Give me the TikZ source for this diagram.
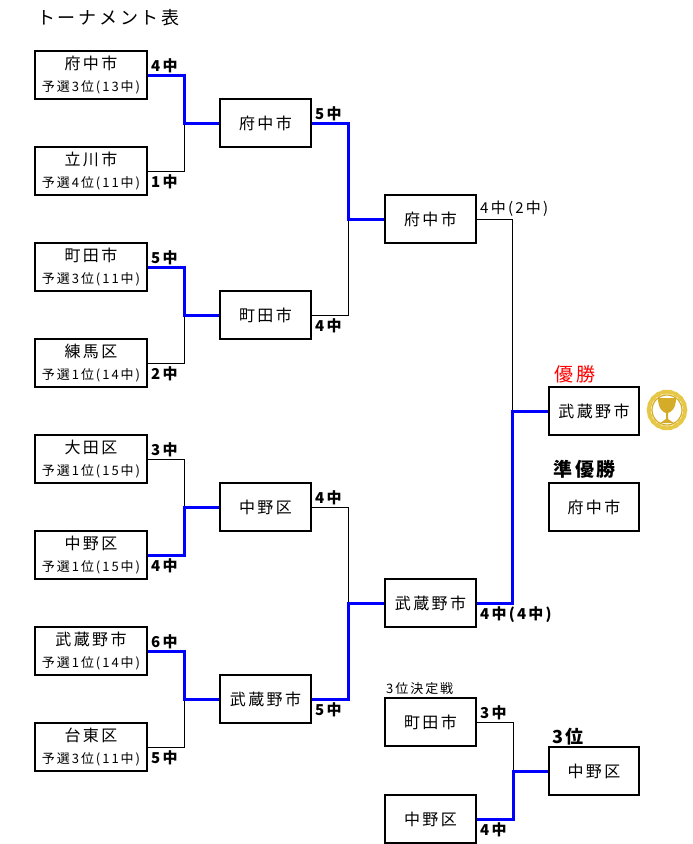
\documentclass[tikz,border=0pt]{standalone}
\usepackage{fontspec}
\setmainfont{Noto Sans CJK JP}[LetterSpace=15]
\usetikzlibrary{positioning}

\definecolor{winblue}{RGB}{0,0,255}
\definecolor{cupgold}{RGB}{212,172,40}
\definecolor{leafgold}{RGB}{230,200,70}

\newcommand{\seedinfo}[1]{{\fontsize{13}{15}\selectfont #1}}

\tikzset{
  team/.style={draw, line width=2pt, minimum height=48pt, inner sep=0pt,
    align=center, font=\fontsize{16}{18}\selectfont},
  seedbox/.style={team, minimum width=112pt},
  matchbox/.style={team, minimum width=91pt},
  win/.style={winblue, line width=3pt},
  lose/.style={black, line width=0.8pt},
  score/.style={font=\bfseries\fontsize{15}{15}\selectfont, inner sep=0pt},
  heading/.style={font=\fontsize{18}{20}\selectfont, inner sep=0pt},
}

\begin{document}
\begin{tikzpicture}[x=1pt,y=-1pt]
\useasboundingbox (0,0) rectangle (693,844);

% Title
\node[heading, anchor=west] (title) at (37,18) {トーナメント表};

% Round 1
\node[seedbox] (fuchuA) at (91,75) {府中市\\[4pt]\seedinfo{予選3位(13中)}};
\node[seedbox] (tachikawa) at (91,171) {立川市\\[4pt]\seedinfo{予選4位(11中)}};
\node[seedbox] (machidaA) at (91,267) {町田市\\[4pt]\seedinfo{予選3位(11中)}};
\node[seedbox] (nerima) at (91,363) {練馬区\\[4pt]\seedinfo{予選1位(14中)}};
\node[seedbox] (ota) at (91,459) {大田区\\[4pt]\seedinfo{予選1位(15中)}};
\node[seedbox] (nakanoA) at (91,555) {中野区\\[4pt]\seedinfo{予選1位(15中)}};
\node[seedbox] (musashinoA) at (91,651) {武蔵野市\\[4pt]\seedinfo{予選1位(14中)}};
\node[seedbox] (taito) at (91,747) {台東区\\[4pt]\seedinfo{予選3位(11中)}};

% Round 2
\node[matchbox] (fuchuB) at (265.5,123) {府中市};
\node[matchbox] (machidaB) at (265.5,315) {町田市};
\node[matchbox] (nakanoB) at (265.5,507) {中野区};
\node[matchbox] (musashinoB) at (265.5,699) {武蔵野市};

% Semi finals
\node[matchbox] (fuchuC) at (430.5,219) {府中市};
\node[matchbox] (musashinoC) at (430.5,603) {武蔵野市};

% Final
\node[matchbox, minimum width=90pt] (champion) at (594,411) {武蔵野市};
\node[matchbox, minimum width=90pt] (runnerup) at (594,507) {府中市};

% Third place match
\node[matchbox] (machidaD) at (430.5,722) {町田市};
\node[matchbox] (nakanoD) at (430.5,819) {中野区};
\node[matchbox, minimum width=90pt] (third) at (594,771) {中野区};

% Junctions
\coordinate (j1) at (184,123);
\coordinate (j2) at (184,315);
\coordinate (j3) at (184,507);
\coordinate (j4) at (184,699);
\coordinate (j5) at (348,219);
\coordinate (j6) at (348,603);
\coordinate (j7) at (512,411);
\coordinate (j8) at (513,771);

% Losers
\draw[lose] (tachikawa.east) -| (j1);
\draw[lose] (nerima.east) -| (j2);
\draw[lose] (ota.east) -| (j3);
\draw[lose] (taito.east) -| (j4);
\draw[lose] (machidaB.east) -| (j5);
\draw[lose] (nakanoB.east) -| (j6);
\draw[lose] (fuchuC.east) -| (j7);
\draw[lose] (machidaD.east) -| (j8);

% Winners
\draw[win] (fuchuA.east) -| (j1) -- (fuchuB.west);
\draw[win] (machidaA.east) -| (j2) -- (machidaB.west);
\draw[win] (nakanoA.east) -| (j3) -- (nakanoB.west);
\draw[win] (musashinoA.east) -| (j4) -- (musashinoB.west);
\draw[win] (fuchuB.east) -| (j5) -- (fuchuC.west);
\draw[win] (musashinoB.east) -| (j6) -- (musashinoC.west);
\draw[win] (musashinoC.east) -| (j7) -- (champion.west);
\draw[win] (nakanoD.east) -| (j8) -- (third.west);

% Scores
\node[score, above right=2pt and 3pt of fuchuA.east] (sA1) {4中};
\node[score, below right=3pt and 3pt of tachikawa.east] (sA2) {1中};
\node[score, above right=2pt and 3pt of machidaA.east] (sA3) {5中};
\node[score, below right=3pt and 3pt of nerima.east] (sA4) {2中};
\node[score, above right=2pt and 3pt of ota.east] (sA5) {3中};
\node[score, below right=3pt and 3pt of nakanoA.east] (sA6) {4中};
\node[score, above right=2pt and 3pt of musashinoA.east] (sA7) {6中};
\node[score, below right=3pt and 3pt of taito.east] (sA8) {5中};
\node[score, above right=2pt and 3pt of fuchuB.east] (sB1) {5中};
\node[score, below right=3pt and 3pt of machidaB.east] (sB2) {4中};
\node[score, above right=2pt and 3pt of nakanoB.east] (sB3) {4中};
\node[score, below right=3pt and 3pt of musashinoB.east] (sB4) {5中};
\node[score, font=\fontsize{15}{15}\selectfont, above right=2pt and 3pt of fuchuC.east] (sC1) {4中(2中)};
\node[score, below right=3pt and 3pt of musashinoC.east] (sC2) {4中(4中)};
\node[score, above right=2pt and 3pt of machidaD.east] (sD1) {3中};
\node[score, below right=3pt and 3pt of nakanoD.east] (sD2) {4中};

% Result labels
\node[heading, font=\fontsize{19}{20}\selectfont, text=red, anchor=south west] (yusho) at ([xshift=6pt,yshift=3pt]champion.north west) {優勝};
\node[heading, font=\bfseries\fontsize{19}{20}\selectfont, anchor=south west] (junyusho) at ([xshift=5pt,yshift=3pt]runnerup.north west) {準優勝};
\node[heading, font=\bfseries\fontsize{18}{20}\selectfont, anchor=south west] (sani) at ([xshift=4pt,yshift=1pt]third.north west) {3位};
\node[heading, font=\fontsize{13}{15}\selectfont, anchor=south west] (sanketsu) at ([xshift=2pt,yshift=2pt]machidaD.north west) {3位決定戦};

% Trophy
\coordinate (cup) at (667,410);
\foreach \a in {0,20,...,340}
  \fill[leafgold, rotate around={\a:(cup)}] ([xshift=18pt]cup) ellipse (2.4pt and 4.5pt);
\draw[cupgold, line width=1.2pt] (cup) circle (15pt);
\fill[cupgold] (658,398) -- (676,398) .. controls (676,409) and (671,412) .. (668,413)
  -- (668,419) -- (674,423) -- (660,423) -- (666,419) -- (666,413)
  .. controls (663,412) and (658,409) .. (658,398) -- cycle;
\end{tikzpicture}
\end{document}
